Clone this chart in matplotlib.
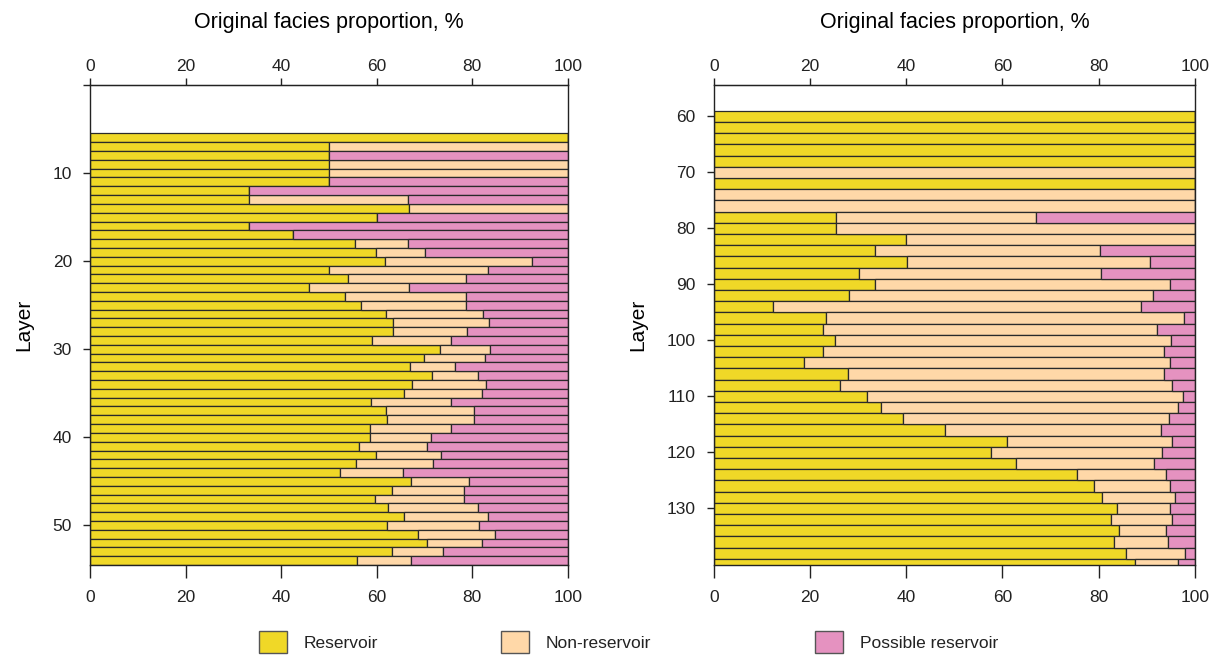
import numpy as np
import matplotlib
matplotlib.use("Agg")
import matplotlib.pyplot as plt
from matplotlib.patches import Patch

plt.rcParams['font.family'] = ['Liberation Sans', 'DejaVu Sans']
plt.rcParams['text.color'] = '#222222'
plt.rcParams['xtick.color'] = '#222222'
plt.rcParams['ytick.color'] = '#222222'

# upper section, one bar per layer
upper_layers = list(range(6, 55))
upper_res = [100, 50, 50, 50, 50, 50, 33.3, 33.3, 66.7, 60, 33.3, 42.5, 55.5, 59.8,
             61.7, 50.0, 53.9, 45.9, 53.4, 56.7, 61.9, 63.3, 63.3, 59.1, 73.3, 69.8,
             67.0, 71.5, 67.3, 65.7, 58.8, 62.0, 62.1, 58.5, 58.5, 56.2, 59.9, 55.7,
             52.4, 67.1, 63.2, 59.6, 62.4, 65.7, 62.2, 68.7, 70.5, 63.1, 55.9]
upper_nonres = [0, 50, 0, 50, 50, 0, 0, 33.3, 33.3, 0, 0, 0, 11.0, 10.2,
                30.7, 33.3, 24.8, 20.8, 25.3, 22.0, 20.4, 20.2, 15.5, 16.5, 10.3, 12.8,
                9.4, 9.6, 15.6, 16.3, 16.8, 18.4, 18.3, 17.1, 12.9, 14.4, 13.6, 16.0,
                13.1, 12.3, 15.1, 18.7, 18.7, 17.6, 19.2, 16.1, 11.6, 10.7, 11.3]

# lower section, bars every second layer
lower_layers = list(range(60, 141, 2))
lower_res = [100, 100, 100, 100, 100, 0, 100, 0, 0, 25.5, 25.5, 40.0, 33.6, 40.1,
             30.2, 33.6, 28.0, 12.4, 23.4, 22.8, 25.2, 22.7, 18.8, 27.8, 26.2, 31.9,
             34.7, 39.4, 48.1, 60.9, 57.7, 62.8, 75.5, 79.1, 80.6, 83.8, 82.6, 84.3,
             83.1, 85.7, 87.6]
lower_nonres = [0, 0, 0, 0, 0, 100, 0, 100, 100, 41.4, 74.5, 60.0, 46.6, 50.6,
                50.3, 61.3, 63.4, 76.5, 74.3, 69.3, 69.9, 70.9, 76.0, 65.7, 69.0, 65.6,
                61.7, 55.3, 44.8, 34.4, 35.5, 28.8, 18.6, 15.7, 15.3, 11.1, 12.7, 9.7,
                11.4, 12.3, 8.8]

labels = ['Reservoir', 'Non-reservoir', 'Possible reservoir']
colors = ['#F0D827', '#FFD8A8', '#E592C0']

fig = plt.figure(figsize=(12.14, 6.55), dpi=100)
ax1 = fig.add_axes([0.0741, 0.1374, 0.3937, 0.7328])
ax2 = fig.add_axes([0.588, 0.1374, 0.3962, 0.7328])


def draw(ax, layers, res, nonres, height, ylim, yticks, yticklabels):
    res = np.array(res)
    nonres = np.array(nonres)
    poss = 100 - res - nonres
    left = np.zeros(len(layers))
    for vals, c in zip([res, nonres, poss], colors):
        ax.barh(layers, vals, left=left, height=height, color=c,
                edgecolor='#2a2a2a', linewidth=0.9)
        left = left + vals
    ax.set_xlim(0, 100)
    ax.set_ylim(*ylim)
    ax.set_yticks(yticks)
    ax.set_yticklabels(yticklabels)
    ax.set_xticks(range(0, 101, 20))
    ax.tick_params(axis='x', length=9, width=1, labelsize=12.5, pad=9)
    ax.tick_params(axis='y', length=5, width=1, labelsize=12.5, pad=8)
    ax.set_ylabel('Layer', fontsize=15, labelpad=14)
    for s in ax.spines.values():
        s.set_linewidth(1)
        s.set_color('#222222')
    top = ax.secondary_xaxis('top')
    top.set_xticks(range(0, 101, 20))
    top.tick_params(length=5, width=1, labelsize=12.5, pad=3)
    top.set_xlabel('Original facies proportion, %', fontsize=15.5, labelpad=22)


draw(ax1, upper_layers, upper_res, upper_nonres, 1.0, (54.5, 0),
     range(0, 51, 10), ['', '10', '20', '30', '40', '50'])
draw(ax2, lower_layers, lower_res, lower_nonres, 2.0, (140.1, 54.4),
     range(60, 131, 10), [str(v) for v in range(60, 131, 10)])

# legend entries sit at uneven spacing along the bottom
for lab, c, x in zip(labels, colors, [0.2133, 0.4126, 0.6713]):
    h = Patch(facecolor=c, edgecolor='#555555', linewidth=1)
    fig.legend([h], [lab], loc='center left', bbox_to_anchor=(x, 0.02),
               frameon=False, fontsize=12.5, handlelength=1.6, handleheight=1.6,
               handletextpad=1.0, borderpad=0, borderaxespad=0)

fig.savefig('out.png', dpi=100)
